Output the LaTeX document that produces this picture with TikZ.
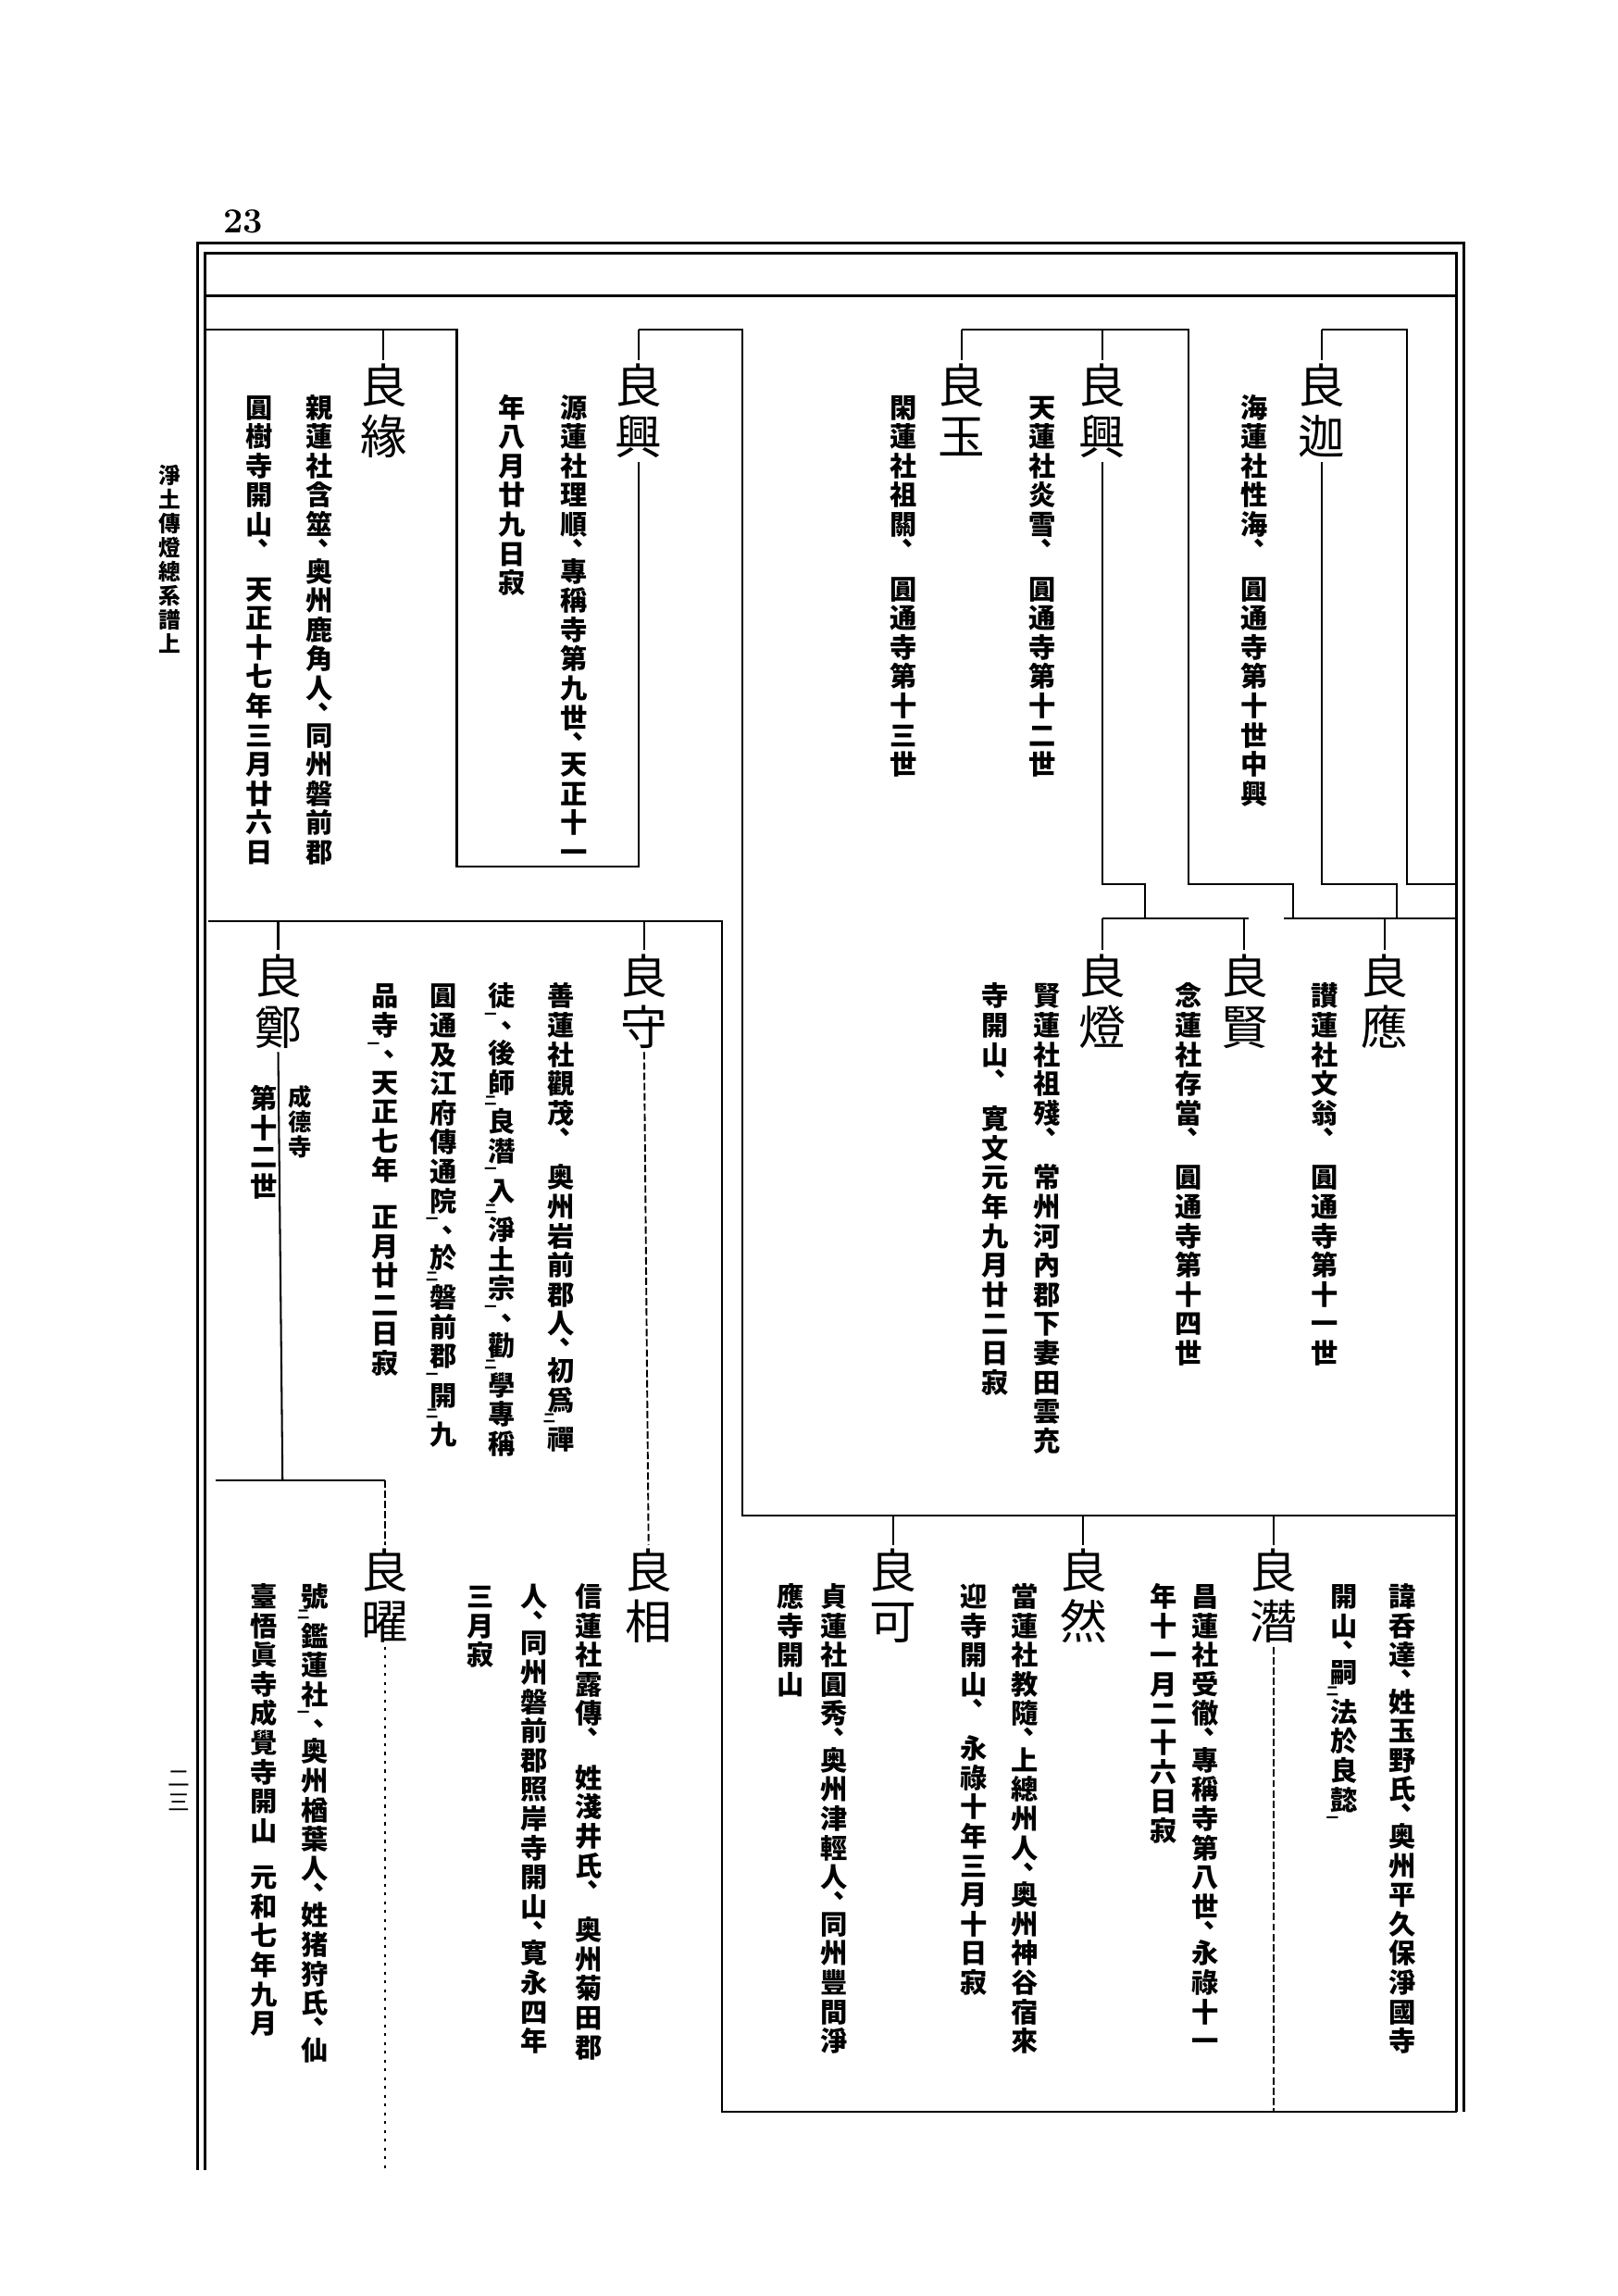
\documentclass[tikz,border=0pt]{standalone}
\usepackage{fontspec}
\usepackage{graphicx}
\newfontfamily\jp{Noto Sans CJK JP}
\newdimen\vtpitch
\makeatletter
\def\vtend{\vtend}
\def\kA{kA}\def\kB{kB}\def\vsp{vsp}
\newcommand\vt[2][1.08em]{\vbox{\offinterlineskip\setlength\vtpitch{#1}\vt@loop#2\vtend}}
\def\vt@loop#1{\ifx#1\vtend\else
  \ifx#1\kA\vt@kt{一}\else
  \ifx#1\kB\vt@kt{二}\else
  \ifx#1\vsp\vt@gap\else
  \ifx#1、\vt@cm\else
  \vt@one{#1}\fi\fi\fi\fi
  \expandafter\vt@loop\fi}
\def\vt@one#1{\hbox to1em{\hss\vbox to\vtpitch{\vskip\dimexpr(\vtpitch-1em)/2+0.88em\relax\hbox{\smash{#1}}\vss}\hss}}
\def\vt@gap{\hbox to1em{\vbox to0.6\vtpitch{\vss}\hss}}
\def\vt@cm{\hbox to1em{\vbox to0.6\vtpitch{\vskip0.25em\hbox{\smash{\hskip0.45em 、}}\vss}\hss}}
\def\vt@kt#1{\hbox to1em{\vbox to0.35\vtpitch{\vskip0.3em\hbox{\smash{\hskip-0.15em\scalebox{0.45}{#1}}}\vss}\hss}}
\makeatother
\tikzset{
  nm/.style={anchor=north,inner sep=0pt,font=\jp\fontsize{32}{32}\selectfont},
  tx/.style={anchor=north,inner sep=0pt,font=\jp\bfseries\fontsize{18.5}{18.5}\selectfont},
  sm/.style={anchor=north,inner sep=0pt,font=\jp\bfseries\fontsize{16}{16}\selectfont},
  mg/.style={anchor=north,inner sep=0pt,font=\jp\bfseries\fontsize{15}{15}\selectfont},
  ln/.style={line width=1.3pt},
  fr/.style={line width=1.8pt},
  dl/.style={line width=1.2pt,dash pattern=on 5pt off 2pt},
  dt/.style={line width=1pt,dash pattern=on 2pt off 4pt}
}
\begin{document}
\begin{tikzpicture}[x=1pt,y=-1pt]
\fill[white] (0,0) rectangle (1105,1568);
\useasboundingbox (0,0) rectangle (1105,1568);
% page furniture
\node[font=\bfseries\fontsize{24}{24}\selectfont,inner sep=0pt] (pg) at (166,151) {23};
\node[mg] (ttl) at (116,316) {\vt[1.1em]{淨土傳燈總系譜上}};
\node[mg,font=\jp\fontsize{15}{15}\selectfont] (pn) at (122,1206) {\vt[1.1em]{二三}};
% frame
\draw[fr] (135,1482) -- (135,166) -- (1000,166) -- (1000,1442);
\draw[fr] (140,1482) -- (140,173) -- (995,173) -- (995,1442);
\draw[ln] (140,202) -- (995,202);
% ---------- names ----------
\node[nm] (nA) at (903,246) {\vt{良迦}};
\node[nm] (nB) at (753,246) {\vt{良興}};
\node[nm] (nC) at (657,246) {\vt{良玉}};
\node[nm] (nD) at (436,246) {\vt{良興}};
\node[nm] (nE) at (262,246) {\vt{良緣}};
\node[nm] (nF) at (946,649) {\vt{良應}};
\node[nm] (nG) at (850,649) {\vt{良賢}};
\node[nm] (nH) at (753,649) {\vt{良燈}};
\node[nm] (nI) at (440,649) {\vt{良守}};
\node[nm] (nJ) at (190,649) {\vt{良鄭}};
\node[nm] (nK) at (870,1055) {\vt{良潛}};
\node[nm] (nL) at (740,1055) {\vt{良然}};
\node[nm] (nM) at (610,1055) {\vt{良可}};
\node[nm] (nN) at (443,1055) {\vt{良相}};
\node[nm] (nO) at (263,1055) {\vt{良曜}};
% ---------- texts ----------
\node[tx] (tA) at (857,268) {\vt{海蓮社性海、\vsp 圓通寺第十世中興}};
\node[tx] (tB) at (712,268) {\vt{天蓮社炎雪、\vsp 圓通寺第十二世}};
\node[tx] (tC) at (617,268) {\vt{閑蓮社祖關、\vsp 圓通寺第十三世}};
\node[tx] (tD1) at (392,268) {\vt{源蓮社理順、專稱寺第九世、天正十一}};
\node[tx] (tD2) at (350,268) {\vt{年八月廿九日寂}};
\node[tx] (tE1) at (218,268) {\vt{親蓮社含筮、奥州鹿角人、同州磐前郡}};
\node[tx] (tE2) at (177,268) {\vt{圓樹寺開山、\vsp 天正十七年三月廿六日}};
\node[tx] (tF) at (905,670) {\vt{讃蓮社文翁、\vsp 圓通寺第十一世}};
\node[tx] (tG) at (812,670) {\vt{念蓮社存當、\vsp 圓通寺第十四世}};
\node[tx] (tH1) at (715,670) {\vt{賢蓮社祖殘、\vsp 常州河內郡下妻田雲充}};
\node[tx] (tH2) at (680,670) {\vt{寺開山、\vsp 寛文元年九月廿二日寂}};
\node[tx] (tI1) at (383,670) {\vt{善蓮社觀茂、\vsp 奥州岩前郡人、初爲\kB 禪}};
\node[tx] (tI2) at (343,670) {\vt{徒\kA 、後師\kB 良潛\kA 入\kB 淨土宗\kA 、勸\kB 學專稱}};
\node[tx] (tI3) at (303,670) {\vt{圓通及江府傳通院\kA 、於\kB 磐前郡\kA 開\kB 九}};
\node[tx] (tI4) at (263,670) {\vt{品寺\kA 、天正七年\vsp 正月廿二日寂}};
\node[tx] (tJ1) at (180,740) {\vt{第十二世}};
\node[sm] (tJ2) at (205,740) {\vt{成德寺}};
\node[tx] (tP1) at (958,1080) {\vt{諱呑達、姓玉野氏、奥州平久保淨國寺}};
\node[tx] (tP2) at (918,1080) {\vt{開山、嗣\kB 法於良懿\kA }};
\node[tx] (tK1) at (823,1080) {\vt{昌蓮社受徹、專稱寺第八世、永祿十一}};
\node[tx] (tK2) at (795,1080) {\vt{年十一月二十六日寂}};
\node[tx] (tL1) at (700,1080) {\vt{當蓮社教隨、上總州人、奥州神谷宿來}};
\node[tx] (tL2) at (665,1080) {\vt{迎寺開山、\vsp 永祿十年三月十日寂}};
\node[tx] (tM1) at (570,1080) {\vt{貞蓮社圓秀、奥州津輕人、同州豐間淨}};
\node[tx] (tM2) at (540,1080) {\vt{應寺開山}};
\node[tx] (tN1) at (402,1080) {\vt{信蓮社露傳、\vsp 姓淺井氏、\vsp 奥州菊田郡}};
\node[tx] (tN2) at (365,1080) {\vt{人、同州磐前郡照岸寺開山、寛永四年}};
\node[tx] (tN3) at (328,1080) {\vt{三月寂}};
\node[tx] (tO1) at (215,1080) {\vt{號\kB 鑑蓮社\kA 、奥州楢葉人、姓猪狩氏、仙}};
\node[tx] (tO2) at (180,1080) {\vt{臺悟眞寺成覺寺開山\vsp 元和七年九月}};
% ---------- junction coordinates ----------
\coordinate (a1) at (140,225);
\coordinate (a2) at (312,225);
\coordinate (a3) at (312,592);
\coordinate (a4) at (436,592);
\coordinate (b1) at (657,225);
\coordinate (b2) at (812,225);
\coordinate (b3) at (812,604);
\coordinate (b4) at (883,604);
\coordinate (b5) at (883,627);
\coordinate (c1) at (903,225);
\coordinate (c2) at (961,225);
\coordinate (c3) at (961,604);
\coordinate (c4) at (995,604);
\coordinate (d1) at (753,604);
\coordinate (d2) at (782,604);
\coordinate (d3) at (782,627);
\coordinate (e1) at (903,604);
\coordinate (e2) at (954,604);
\coordinate (e3) at (954,627);
\coordinate (f1) at (753,627);
\coordinate (f2) at (853,627);
\coordinate (f3) at (877,627);
\coordinate (f4) at (995,627);
\coordinate (g1) at (142,629);
\coordinate (g2) at (493,629);
\coordinate (g3) at (493,1442);
\coordinate (g4) at (995,1442);
\coordinate (h1) at (436,225);
\coordinate (h0) at (507,225);
\coordinate (h2) at (507,1035);
\coordinate (h3) at (995,1035);
\coordinate (i1) at (193,1011);
\coordinate (i2) at (147,1011);
\coordinate (i3) at (263,1011);
% ---------- connectors ----------
\draw[ln] (a1) -- (a2) -- (a3) -- (a4) -- (nD.south);
\draw[ln] (a1 -| nE.north) -- (nE.north);
\draw[ln] (h1) -- (h0) -- (h2) -- (h3);
\draw[ln] (h1) -- (nD.north);
\draw[ln] (b1) -- (b2) -- (b3) -- (b4) -- (b5);
\draw[ln] (b1 -| nC.north) -- (nC.north);
\draw[ln] (b1 -| nB.north) -- (nB.north);
\draw[ln] (nB.south) -- (d1) -- (d2) -- (d3);
\draw[ln] (c1) -- (nA.north);
\draw[ln] (c1) -- (c2) -- (c3) -- (c4);
\draw[ln] (nA.south) -- (e1) -- (e2) -- (e3);
\draw[ln] (f1) -- (f2);
\draw[ln] (f3) -- (f4);
\draw[ln] (f1) -- (nH.north);
\draw[ln] (f1 -| nG.north) -- (nG.north);
\draw[ln] (f3 -| nF.north) -- (nF.north);
\draw[ln] (g1) -- (g2) -- (g3) -- (g4);
\draw[ln] (g1 -| nJ.north) -- (nJ.north);
\draw[ln] (g1 -| nI.north) -- (nI.north);
\draw[dl] (nI.south) -- (nN.north);
\draw[ln] (nJ.south) -- (i1);
\draw[ln] (i2) -- (i3);
\draw[dl] (i3) -- (nO.north);
\draw[dt] (nO.south) -- (nO.south |- 0,1482);
\draw[ln] (h2 -| nK.north) -- (nK.north);
\draw[ln] (h2 -| nL.north) -- (nL.north);
\draw[ln] (h2 -| nM.north) -- (nM.north);
\draw[dl] (nK.south) -- (nK.south |- g3);
\end{tikzpicture}
\end{document}
